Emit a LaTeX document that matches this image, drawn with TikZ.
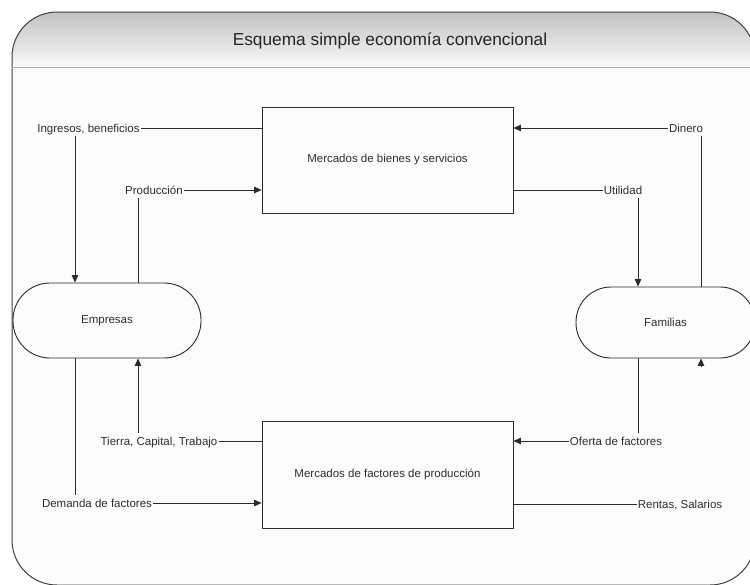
\documentclass[tikz,border=0pt]{standalone}
\usepackage{fontspec}
\setmainfont{Liberation Sans}
\usetikzlibrary{arrows.meta}
\definecolor{ink}{HTML}{2E2E2E}
\definecolor{wirec}{HTML}{2A2A2A}
\definecolor{panel}{HTML}{FCFCFC}
\begin{document}
\begin{tikzpicture}[x=1pt,y=-1pt,
  wire/.style={draw=wirec,line width=0.9pt},
  arr/.style={wire,-{Triangle[length=7.5pt,width=6.5pt]}},
  lbl/.style={text=ink,font=\fontsize{11.5}{13}\selectfont,
    inner xsep=1pt,inner ysep=4pt,text height=8.5pt,text depth=0pt},
  market/.style={draw=wirec,line width=0.9pt,fill=panel,text=ink,
    font=\fontsize{11.5}{13}\selectfont,minimum width=251pt},
  agent/.style={draw=wirec,line width=0.9pt,fill=panel,text=ink,
    font=\fontsize{11.5}{13}\selectfont,rectangle},
]
\useasboundingbox (0,0) rectangle (750,584);
\fill[white] (0,0) rectangle (750,584);

% outer frame with shaded title band
\begin{scope}
  \clip[rounded corners=45pt] (12,12) rectangle (755,585);
  \fill[panel] (12,12) rectangle (755,585);
  \shade[top color=gray!48,bottom color=gray!5] (12,12) rectangle (755,67);
\end{scope}
\draw[draw=black!75,line width=1pt,rounded corners=45pt] (12,12) rectangle (755,585);
\draw[gray!65,line width=0.8pt] (12,67) -- (755,67);
\node[anchor=base,text=black!85,font=\fontsize{17.3}{20}\selectfont] (title) at (390,45) {Esquema simple economía convencional};

% markets
\node[market,minimum height=106pt] (mb) at (387.5,160) {Mercados de bienes y servicios};
\node[market,minimum height=107pt] (mf) at (387.5,474.5) {Mercados de factores de producción};

% economic agents
\node[agent,rounded corners=37pt,minimum width=188pt,minimum height=75pt] (emp) at (107,320.5) {Empresas};
\node[agent,rounded corners=35pt,minimum width=179pt,minimum height=71pt] (fam) at (665.5,322.5) {Familias};

% flow labels
\node[lbl] (ing) at (88.5,128) {Ingresos, beneficios};
\node[lbl] (prod) at (154,190) {Producción};
\node[lbl] (din) at (686,128) {Dinero};
\node[lbl] (util) at (623,190) {Utilidad};
\node[lbl] (ofe) at (616,441) {Oferta de factores};
\node[lbl] (ren) at (680,504) {Rentas, Salarios};
\node[lbl] (tie) at (159,441) {Tierra, Capital, Trabajo};
\node[lbl] (dem) at (97,503) {Demanda de factores};

% connector columns
\coordinate (cA) at (75,0);
\coordinate (cB) at (138,0);
\coordinate (cC) at (638,0);
\coordinate (cD) at (701,0);
\coordinate (rtip) at (701,367);

% goods market flows
\draw[wire] (mb.west |- ing) -- (ing.east);
\draw[arr] (cA |- ing.south) -- (cA |- emp.north);
\draw[wire] (cB |- emp.north) -- (cB |- prod.south);
\draw[arr] (prod.east) -- (prod -| mb.west);
\draw[arr] (din.west) -- (din -| mb.east);
\draw[wire] (cD |- fam.north) -- (cD |- din.south);
\draw[wire] (util -| mb.east) -- (util.west);
\draw[arr] (cC |- util.south) -- (cC |- fam.north);

% factor market flows
\draw[wire] (cC |- fam.south) -- (cC |- ofe.north);
\draw[arr] (ofe.west) -- (ofe -| mf.east);
\draw[wire] (ren -| mf.east) -- (ren.west);
\draw[arr] (rtip) -- (cD |- fam.south);
\draw[wire] (tie.east) -- (tie -| mf.west);
\draw[arr] (cB |- tie.north) -- (cB |- emp.south);
\draw[wire] (cA |- emp.south) -- (cA |- dem.north);
\draw[arr] (dem.east) -- (dem -| mf.west);
\end{tikzpicture}
\end{document}
